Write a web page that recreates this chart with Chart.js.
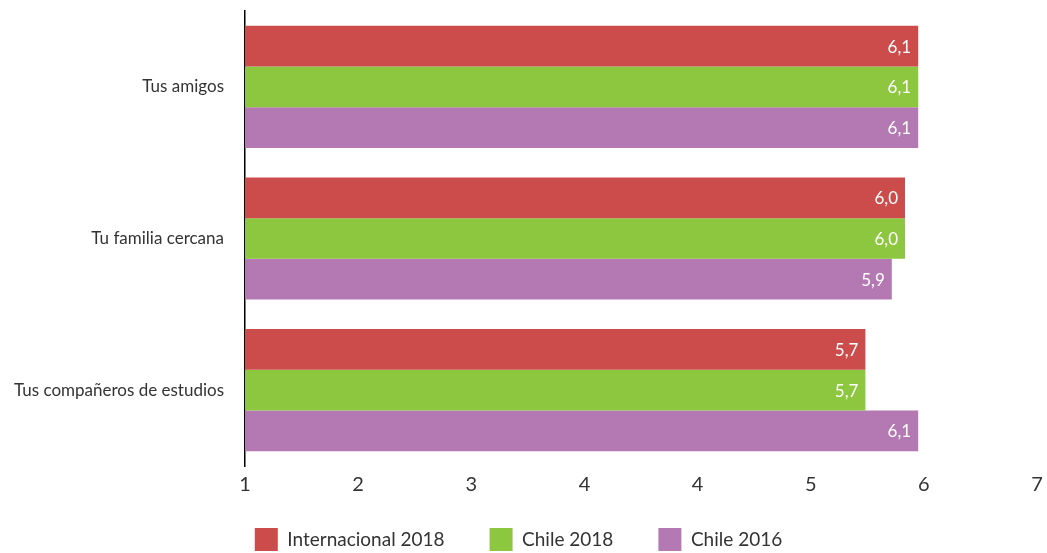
<!DOCTYPE html>
<html>
<head>
<meta charset="utf-8">
<script src="https://cdn.jsdelivr.net/npm/chart.js@4/dist/chart.umd.min.js"></script>
<style>
html,body{margin:0;padding:0;background:#fff;}
#wrap{width:1047px;height:553px;position:relative;}
</style>
</head>
<body>
<div id="wrap"><canvas id="c"></canvas></div>
<script>
const categories = ['Tus amigos', 'Tu familia cercana', 'Tus compañeros de estudios'];
const seriesNames = ['Internacional 2018', 'Chile 2018', 'Chile 2016'];
const internacional2018 = [6.1, 6.0, 5.7];
const chile2018 = [6.1, 6.0, 5.7];
const chile2016 = [6.1, 5.9, 6.1];
const seriesColors = ['#CC4C4C', '#8DC63F', '#B479B3'];
const tickLabels = ['1', '2', '3', '4', '4', '5', '6', '7'];
const axisMin = 1, axisMax = 7;

const FONT = "Lato, sans-serif";

const valueLabels = {
  id: 'valueLabels',
  afterDatasetsDraw(chart) {
    const ctx = chart.ctx;
    ctx.save();
    ctx.fillStyle = '#ffffff';
    ctx.font = "17px " + FONT;
    ctx.textAlign = 'right';
    ctx.textBaseline = 'middle';
    chart.data.datasets.forEach((ds, di) => {
      chart.getDatasetMeta(di).data.forEach((bar, i) => {
        const txt = ds.data[i].toFixed(1).replace('.', ',');
        ctx.fillText(txt, bar.x - 7, bar.y + 1);
      });
    });
    ctx.restore();
  }
};

const LEGEND_TOP = 483;
const legendFit = {
  id: 'legendFit',
  afterInit(chart) {
    const lg = chart.legend;
    if (!lg) return;
    const orig = lg.fit;
    lg.fit = function () { orig.call(this); this.height = 57; };
  },
  afterLayout(chart) {
    const lg = chart.legend;
    if (!lg) return;
    const h = lg.bottom - lg.top;
    lg.top = LEGEND_TOP;
    lg.bottom = LEGEND_TOP + h + 14;
  }
};

new Chart(document.getElementById('c'), {
  type: 'bar',
  data: {
    labels: categories,
    datasets: [
      { label: seriesNames[0], data: internacional2018, backgroundColor: seriesColors[0] },
      { label: seriesNames[1], data: chile2018, backgroundColor: seriesColors[1] },
      { label: seriesNames[2], data: chile2016, backgroundColor: seriesColors[2] }
    ]
  },
  options: {
    indexAxis: 'y',
    responsive: true,
    maintainAspectRatio: false,
    animation: false,
    layout: { padding: { top: 11, right: 10, left: 0, bottom: 0 } },
    datasets: { bar: { categoryPercentage: 0.805, barPercentage: 1.0, borderWidth: 0 } },
    scales: {
      x: {
        min: axisMin, max: axisMax,
        afterBuildTicks(scale) {
          scale.ticks = tickLabels.map((l, i) => ({ value: axisMin + i * (axisMax - axisMin) / (tickLabels.length - 1) }));
        },
        afterFit(scale) { scale.height = 30; scale.paddingLeft = 0; scale.paddingRight = 0; },
        ticks: {
          autoSkip: false, maxRotation: 0,
          color: '#333333',
          font: { family: FONT, size: 20 },
          padding: 7,
          callback: (v, i) => tickLabels[i]
        },
        grid: { display: false, drawTicks: false },
        border: { display: false }
      },
      y: {
        afterFit(scale) { scale.width = 245; scale.paddingTop = 0; scale.paddingBottom = 0; },
        ticks: {
          color: '#333333',
          font: { family: FONT, size: 17 },
          padding: 21
        },
        grid: { display: false, drawTicks: false },
        border: { display: true, color: '#000000', width: 1.5 }
      }
    },
    plugins: {
      legend: {
        position: 'bottom',
        align: 'center',
        labels: {
          boxWidth: 23, boxHeight: 23,
          color: '#333333',
          font: { family: FONT, size: 19 },
          padding: 45
        }
      },
      tooltip: { enabled: false }
    }
  },
  plugins: [valueLabels, legendFit]
});
</script>
</body>
</html>
